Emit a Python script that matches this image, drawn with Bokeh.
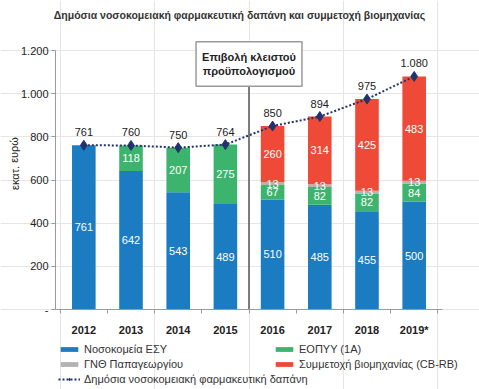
from bokeh.plotting import figure
from bokeh.models import (ColumnDataSource, Range1d, LinearAxis, FixedTicker, Label, Legend,
                          LegendItem)
from bokeh.core.properties import value
from bokeh.embed import file_html
from bokeh.resources import INLINE

# ---------------- data ----------------
years = ["2012", "2013", "2014", "2015", "2016", "2017", "2018", "2019*"]
esy = [761, 642, 543, 489, 510, 485, 455, 500]
eopyy = [0, 118, 207, 275, 67, 82, 82, 84]
gnth = [0, 0, 0, 0, 13, 13, 13, 13]
cbrb = [0, 0, 0, 0, 260, 314, 425, 483]
total = [761, 760, 750, 764, 850, 894, 975, 1080]
y_ticks = [0, 200, 400, 600, 800, 1000, 1200]

series_keys = ["esy", "eopyy", "gnth", "cbrb"]
series_names = ["Νοσοκομεία ΕΣΥ", "ΕΟΠΥΥ (1Α)", "ΓΝΘ Παπαγεωργίου", "Συμμετοχή βιομηχανίας (CB-RB)"]
line_name = "Δημόσια νοσοκομειακή φαρμακευτική δαπάνη"
title_text = "Δημόσια νοσοκομειακή φαρμακευτική δαπάνη και συμμετοχή βιομηχανίας"
note_text = "Επιβολή κλειστού\nπροϋπολογισμού"
note_year = "2016"
y_label = "εκατ. ευρώ"

# ---------------- style / layout ----------------
FONT = "Liberation Sans"
COLORS = ["#1c7cc2", "#3db46d", "#b3b3b3", "#ee4a37"]
NAVY = "#22336b"
AXIS = "#9a9a9a"
TXT = "#222222"

W, H = 479, 389
AX_L, AX_R, AX_T, AX_B = 55, 442, 50, 309      # pixel box of the axes area
XPAD = 0.1
YMAX = 1200


def fmt(v):
    return f"{v:,}".replace(",", ".")


n = len(years)
xs = [i + 0.5 for i in range(n)]          # category centres on a linear scale
bounds_x = (-XPAD, n + XPAD)

# pixel <-> data mapping so the frame can cover the whole canvas
sx = (AX_R - AX_L) / (bounds_x[1] - bounds_x[0])
sy = (AX_B - AX_T) / YMAX
x_start = bounds_x[0] - AX_L / sx
x_end = bounds_x[0] + (W - AX_L) / sx
y_start = -(H - AX_B) / sy
y_end = AX_B / sy


def px2x(px):
    return bounds_x[0] + (px - AX_L) / sx


def py2y(py):
    return (AX_B - py) / sy


src = ColumnDataSource(dict(x=xs, esy=esy, eopyy=eopyy, gnth=gnth, cbrb=cbrb,
                            total=total, total_txt=[fmt(v) for v in total]))

# segment labels
lx, ly, lt = [], [], []
for i in range(n):
    bottom = 0
    for vals in (esy, eopyy, gnth, cbrb):
        v = vals[i]
        if v > 0:
            lx.append(xs[i])
            ly.append(bottom + v / 2)
            lt.append(str(v))
        bottom += v
lab_src = ColumnDataSource(dict(x=lx, y=ly, t=lt))

p = figure(width=W, height=H, output_backend="svg", toolbar_location=None,
           x_range=Range1d(x_start, x_end), y_range=Range1d(y_start, y_end),
           x_axis_location=None, y_axis_location=None,
           min_border=0, min_border_left=0, min_border_right=0, min_border_top=0,
           min_border_bottom=0)
p.outline_line_color = None
p.background_fill_color = "white"

# y axis
ya = LinearAxis(fixed_location=bounds_x[0], bounds=(0, YMAX),
                ticker=FixedTicker(ticks=y_ticks),
                major_label_overrides={t: ("-" if t == 0 else fmt(t)) for t in y_ticks},
                axis_line_color=AXIS, major_tick_line_color=AXIS, minor_tick_line_color=None,
                major_tick_in=0, major_tick_out=4, major_label_standoff=3,
                major_label_text_font=FONT, major_label_text_font_size="11px",
                major_label_text_color=TXT)
p.add_layout(ya, "left")

# x axis: labels at category centres, ticks (minor) at category boundaries
xa = LinearAxis(fixed_location=0, bounds=bounds_x,
                ticker=FixedTicker(ticks=xs, minor_ticks=list(range(n + 1))),
                major_label_overrides={x: yr for x, yr in zip(xs, years)},
                axis_line_color=AXIS, major_tick_line_color=None,
                minor_tick_line_color=AXIS, minor_tick_in=0, minor_tick_out=4,
                major_tick_in=0, major_tick_out=0, major_label_standoff=10,
                major_label_text_font=FONT, major_label_text_font_size="11px",
                major_label_text_font_style="bold", major_label_text_color=TXT)
p.add_layout(xa, "below")

# bars
rs = p.vbar_stack(series_keys, x="x", width=0.5, color=COLORS, source=src, line_color=None)

p.text(x="x", y="y", text="t", source=lab_src, text_color="white", text_font=value(FONT),
       text_font_size="11px", text_align="center", text_baseline="middle")

# separator + note
sep_x = years.index(note_year)
p.segment(x0=[sep_x], y0=[0], x1=[sep_x], y1=[py2y(84)],
          line_color="#555555", line_width=1.5)
p.add_layout(Label(x=sep_x, y=py2y(63.5), text=note_text, text_align="center",
                   text_baseline="middle", text_font=FONT, text_font_size="11px",
                   text_font_style="bold", text_color=TXT, background_fill_color="white",
                   border_line_color=AXIS, border_line_width=1.5,
                   padding=dict(x=6, y=9)))

# total line
lr = p.line(x="x", y="total", source=src, line_color=NAVY, line_width=2, line_dash="2 2")
sr = p.scatter(x="x", y="total", source=src, marker="diamond", size=10,
               fill_color=NAVY, line_color=NAVY)
p.text(x="x", y="total", text="total_txt", source=src, y_offset=-13, text_color=TXT,
       text_font=value(FONT), text_font_size="11px", text_align="center",
       text_baseline="middle")

# title / y label
p.add_layout(Label(x=px2x(239), y=py2y(14), text=title_text, text_align="center",
                   text_baseline="middle", text_font=FONT, text_font_size="10.5px",
                   text_font_style="bold", text_color="#333333"))
p.add_layout(Label(x=px2x(14), y=py2y(163), text=y_label, angle=1.5708,
                   text_align="center", text_baseline="middle", text_font=FONT,
                   text_font_size="11px", text_color=TXT))

# legends
common = dict(padding=0, margin=0, border_line_color=None, background_fill_alpha=0,
              label_text_font=FONT, label_text_font_size="11px", label_text_color="#333333",
              glyph_width=22, glyph_height=6, label_standoff=4)
leg1 = Legend(items=[LegendItem(label=nm, renderers=[r]) for nm, r in zip(series_names, rs)],
              location=(58, H - 370), orientation="horizontal", ncols=2, label_width=187,
              label_height=13, spacing=2, **common)
leg2 = Legend(items=[LegendItem(label=line_name, renderers=[lr, sr])],
              location=(58, H - 385), label_height=13, **common)
p.add_layout(leg1)
p.add_layout(leg2)

open("out.html", "w").write(file_html(p, INLINE))
